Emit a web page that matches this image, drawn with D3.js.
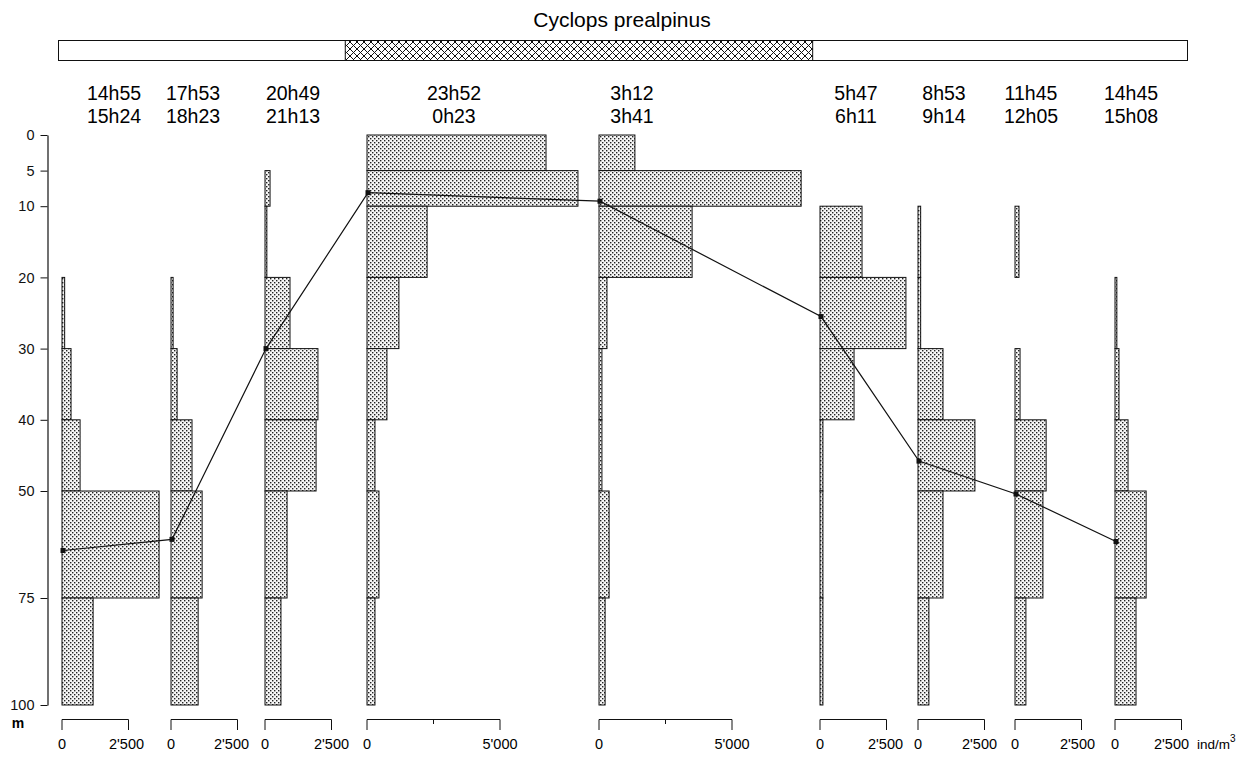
<!DOCTYPE html>
<meta charset="utf-8">
<style>
body { margin: 0; background: white; }
svg { font-family: "Liberation Sans", Arial, sans-serif; }
.bar { stroke: #111; stroke-width: 1px; }
.axis line, .axis path { stroke: #111; }
</style>
<svg width="1255" height="764"></svg>
<script src="https://d3js.org/d3.v7.min.js"></script>
<script>

// depth strata (m)
var depthTop    = [0, 5, 10, 20, 30, 40, 50, 75];
var depthBottom = [5, 10, 20, 30, 40, 50, 75, 100];
var depthTicks  = [0, 5, 10, 20, 30, 40, 50, 75, 100];

// sampling times
var timeStart = ["14h55", "17h53", "20h49", "23h52", "3h12", "5h47", "8h53", "11h45", "14h45"];
var timeEnd   = ["15h24", "18h23", "21h13", "0h23", "3h41", "6h11", "9h14", "12h05", "15h08"];

// density per stratum (ind/m3), one list per profile
var p1 = [0, 0, 0, 100, 340, 680, 3650, 1170];
var p2 = [0, 0, 0, 80, 230, 790, 1170, 1020];
var p3 = [0, 190, 70, 940, 1990, 1920, 830, 600];
var p4 = [6730, 7930, 2260, 1200, 750, 300, 450, 300];
var p5 = [1350, 7600, 3500, 300, 110, 110, 380, 230];
var p6 = [0, 0, 1580, 3230, 1280, 110, 110, 110];
var p7 = [0, 0, 100, 100, 940, 2140, 940, 410];
var p8 = [0, 0, 150, 0, 190, 1170, 1050, 410];
var p9 = [0, 0, 0, 70, 150, 490, 1170, 790];
var profiles = [p1, p2, p3, p4, p5, p6, p7, p8, p9];

// weighted mean depth (m)
var meanDepth = [63.9, 61.3, 30, 8.1, 9.3, 25.5, 45.8, 50.7, 61.8];

// scale bar length per profile
var axisMax = [2500, 2500, 2500, 5000, 5000, 2500, 2500, 2500, 2500];

// night period on the time bar (fraction of bar)
var nightStart = 0.254, nightEnd = 0.668;

// layout
var zeroX   = [62, 171, 265, 367, 599, 820, 918, 1015, 1115];
var labelX  = [114, 193, 293, 454, 632, 856, 944, 1031, 1131];
var maxLabDx = [-2, -6, 0, 0, 0, -1, -5, -4, -10];

var svg = d3.select("svg");
var fmt = function(v) { return v === 0 ? "0" : d3.format(",")(v).replace(",", "'"); };

var y = d3.scaleLinear().domain([0, 50, 100]).range([135, 491, 705]);
var w = d3.scaleLinear().domain([0, 2500]).range([0, 66.5]);

var defs = svg.append("defs");
var dots = defs.append("pattern").attr("id", "dots")
    .attr("patternUnits", "userSpaceOnUse").attr("width", 4).attr("height", 4);
dots.append("rect").attr("width", 4).attr("height", 4).attr("fill", "#f6f6f6");
dots.append("rect").attr("x", 0).attr("y", 0).attr("width", 1.4).attr("height", 1.4).attr("fill", "#222");
dots.append("rect").attr("x", 2).attr("y", 2).attr("width", 1.4).attr("height", 1.4).attr("fill", "#222");

var hatch = defs.append("pattern").attr("id", "hatch")
    .attr("patternUnits", "userSpaceOnUse").attr("width", 7).attr("height", 7);
hatch.append("rect").attr("width", 7).attr("height", 7).attr("fill", "white");
hatch.append("path").attr("d", "M0,0L7,7M7,0L0,7").attr("stroke", "#111").attr("stroke-width", 1);

// title
svg.append("text").attr("x", 622).attr("y", 27).attr("text-anchor", "middle")
    .attr("font-size", "21px").text("Cyclops prealpinus");

// day / night bar
var barX = d3.scaleLinear().domain([0, 1]).range([58.5, 1187.5]);
svg.append("rect").attr("x", barX(0)).attr("y", 40.5).attr("width", barX(1) - barX(0)).attr("height", 20)
    .attr("fill", "white").attr("stroke", "#111");
svg.append("rect").attr("x", barX(nightStart)).attr("y", 40.5)
    .attr("width", barX(nightEnd) - barX(nightStart)).attr("height", 20)
    .attr("fill", "url(#hatch)").attr("stroke", "#111");

// time labels
svg.append("g").selectAll("text").data(timeStart).join("text")
    .attr("x", function(d, i) { return labelX[i]; }).attr("y", 100)
    .attr("text-anchor", "middle").attr("font-size", "19.5px").text(function(d) { return d; });
svg.append("g").selectAll("text").data(timeEnd).join("text")
    .attr("x", function(d, i) { return labelX[i]; }).attr("y", 123)
    .attr("text-anchor", "middle").attr("font-size", "19.5px").text(function(d) { return d; });

// depth axis
var yAxis = svg.append("g").attr("class", "axis").attr("transform", "translate(47.5,0)")
    .call(d3.axisLeft(y).tickValues(depthTicks).tickSize(7).tickPadding(6).tickSizeOuter(0));
yAxis.select(".domain").attr("stroke-width", 1.2);
yAxis.selectAll("text").attr("font-size", "14.5px").attr("fill", "#111")
    .attr("font-family", "Liberation Sans, Arial, sans-serif");
svg.append("text").attr("x", 18).attr("y", 728).attr("text-anchor", "middle")
    .attr("font-size", "14px").attr("font-weight", "bold").text("m");

// profiles
profiles.forEach(function(vals, i) {
    var g = svg.append("g");
    var rows = vals.map(function(v, k) { return {v: v, top: depthTop[k], bot: depthBottom[k]}; })
        .filter(function(d) { return d.v > 0; });
    g.selectAll("rect").data(rows).join("rect")
        .attr("class", "bar")
        .attr("x", zeroX[i])
        .attr("y", function(d) { return y(d.top); })
        .attr("width", function(d) { return Math.max(w(d.v), 1); })
        .attr("height", function(d) { return y(d.bot) - y(d.top); })
        .attr("fill", "url(#dots)");

    // scale bracket
    var ax = d3.scaleLinear().domain([0, 2500]).range([zeroX[i], zeroX[i] + w(2500)]);
    var ticks = d3.range(0, axisMax[i] + 1, 2500);
    var b = svg.append("g").attr("stroke", "#111").attr("fill", "none");
    b.append("line").attr("x1", ax(0)).attr("x2", ax(axisMax[i])).attr("y1", 719.5).attr("y2", 719.5);
    b.selectAll("line.t").data(ticks).join("line").attr("class", "t")
        .attr("x1", function(d) { return ax(d); }).attr("x2", function(d) { return ax(d); })
        .attr("y1", 719.5)
        .attr("y2", function(d) { return (d === 0 || d === axisMax[i]) ? 730 : 724; });
    svg.append("g").selectAll("text").data([0, axisMax[i]]).join("text")
        .attr("x", function(d) { return ax(d) + (d === 0 ? 0 : maxLabDx[i]); }).attr("y", 749)
        .attr("text-anchor", "middle").attr("font-size", "14.5px")
        .text(fmt);
});

// unit label
var unit = svg.append("text").attr("x", 1197).attr("y", 749).attr("font-size", "13.5px");
unit.append("tspan").text("ind/m");
unit.append("tspan").attr("dy", -7).attr("font-size", "10px").text("3");

// mean depth line
var pts = meanDepth.map(function(d, i) { return [zeroX[i] + 1, y(d)]; });
svg.append("path").attr("d", d3.line()(pts)).attr("fill", "none").attr("stroke", "#111").attr("stroke-width", 1.2);
svg.append("g").selectAll("rect").data(pts).join("rect")
    .attr("x", function(d) { return d[0] - 2.5; }).attr("y", function(d) { return d[1] - 2.5; })
    .attr("width", 5).attr("height", 5).attr("fill", "#111");

</script>
